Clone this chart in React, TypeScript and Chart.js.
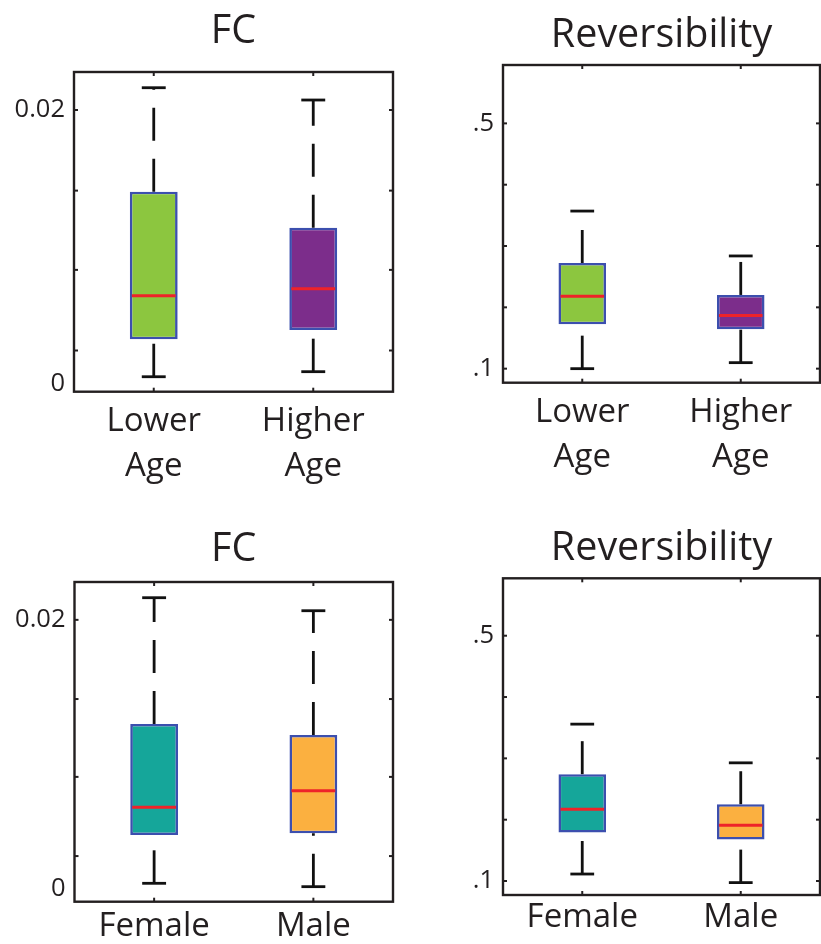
import React, { useEffect, useRef } from 'react';
import { Chart, registerables } from 'chart.js';

Chart.register(...registerables);

// ---- data -------------------------------------------------------------
// Each group: [lower whisker, Q1, median, Q3, upper whisker]
const ageGroups = [['Lower', 'Age'], ['Higher', 'Age']];
const sexGroups = ['Female', 'Male'];

const fcByAge = [
  [0.00048, 0.00322, 0.00641, 0.01402, 0.02163],
  [0.00085, 0.0039, 0.00692, 0.01139, 0.02073],
];
const revByAge = [
  [0.1, 0.1723, 0.218, 0.2724, 0.357],
  [0.1098, 0.1642, 0.1865, 0.2202, 0.2838],
];
const fcBySex = [
  [0.00037, 0.00397, 0.00603, 0.01224, 0.02165],
  [0.00012, 0.0041, 0.00727, 0.01142, 0.02068],
];
const revBySex = [
  [0.1114, 0.179, 0.217, 0.2742, 0.3558],
  [0.0974, 0.1676, 0.191, 0.2252, 0.2927],
];

const ageColors = ['#8cc63f', '#7c2d8b'];
const sexColors = ['#15a69a', '#fbb040'];

// axis ticks
const fcLabelTicks = [0, 0.02];
const fcTickLabels = ['0', '0.02'];
const fcTickMarks = [0.0024, 0.0083, 0.0141, 0.02];
const revLabelTicks = [0.1, 0.5];
const revTickLabels = ['.1', '.5'];
const revTickMarks = [0.1, 0.2, 0.3, 0.4, 0.5];

const fcAgeRange = [-0.000615, 0.02278];
const fcSexRange = [-0.001, 0.02282];
const revAgeRange = [0.0771, 0.5952];
const revSexRange = [0.0772, 0.5936];

// ---- styling ----------------------------------------------------------
const FONT = "'Open Sans', 'Noto Sans', sans-serif";
const INK = '#231f20';
const BOX_EDGE = '#3c4fae';
const MEDIAN = '#ee2329';
const TITLE_SIZE = 39.5;
const TITLE_LH = 1.2;

type Spec = {
  title: string;
  categories: any[];
  stats: number[][];
  colors: string[];
  range: number[];
  labelTicks: number[];
  tickLabels: string[];
  tickMarks: number[];
  canvas: { x: number; y: number; w: number; h: number };
  area: { l: number; t: number; r: number; b: number };
  titleMid: number;
  xPad: number;
};

const panels: Spec[] = [
  {
    title: 'FC', categories: ageGroups, stats: fcByAge, colors: ageColors, range: fcAgeRange,
    labelTicks: fcLabelTicks, tickLabels: fcTickLabels, tickMarks: fcTickMarks,
    canvas: { x: 0, y: 0, w: 410, h: 490 }, area: { l: 74, t: 72, r: 393, b: 391.7 },
    titleMid: 31.5, xPad: 7,
  },
  {
    title: 'Reversibility', categories: ageGroups, stats: revByAge, colors: ageColors, range: revAgeRange,
    labelTicks: revLabelTicks, tickLabels: revTickLabels, tickMarks: revTickMarks,
    canvas: { x: 410, y: 0, w: 411, h: 490 }, area: { l: 503, t: 65, r: 820, b: 382.7 },
    titleMid: 35.6, xPad: 7.5,
  },
  {
    title: 'FC', categories: sexGroups, stats: fcBySex, colors: sexColors, range: fcSexRange,
    labelTicks: fcLabelTicks, tickLabels: fcTickLabels, tickMarks: fcTickMarks,
    canvas: { x: 0, y: 490, w: 410, h: 454 }, area: { l: 74.5, t: 582, r: 393, b: 901.7 },
    titleMid: 59.8, xPad: 2,
  },
  {
    title: 'Reversibility', categories: sexGroups, stats: revBySex, colors: sexColors, range: revSexRange,
    labelTicks: revLabelTicks, tickLabels: revTickLabels, tickMarks: revTickMarks,
    canvas: { x: 410, y: 490, w: 411, h: 454 }, area: { l: 503, t: 578.3, r: 820, b: 895 },
    titleMid: 59, xPad: 0.5,
  },
];

// Whiskers, caps, medians, frame and inward tick marks, all placed through the chart's scales.
function boxDecorations(spec: Spec) {
  return {
    id: 'boxDecorations',
    afterDatasetsDraw(chart: any) {
      const { ctx, chartArea: a, scales } = chart;
      const x = scales.x;
      const y = scales.y;
      const meta = chart.getDatasetMeta(0);
      const seg = (x1: number, y1: number, x2: number, y2: number) => {
        ctx.beginPath();
        ctx.moveTo(x1, y1);
        ctx.lineTo(x2, y2);
        ctx.stroke();
      };
      ctx.save();
      spec.stats.forEach((s, i) => {
        const bar = meta.data[i];
        const cx = bar.x;
        const w = bar.width;
        const [lo, q1, med, q3, hi] = s;
        // dashed whiskers, drawn upward from the lower value
        ctx.strokeStyle = '#111';
        ctx.lineWidth = 2.8;
        ctx.lineCap = 'butt';
        ctx.setLineDash([33, 18]);
        seg(cx, y.getPixelForValue(lo), cx, y.getPixelForValue(q1));
        seg(cx, y.getPixelForValue(q3), cx, y.getPixelForValue(hi));
        ctx.setLineDash([]);
        // caps
        seg(cx - w / 4, y.getPixelForValue(lo), cx + w / 4, y.getPixelForValue(lo));
        seg(cx - w / 4, y.getPixelForValue(hi), cx + w / 4, y.getPixelForValue(hi));
        // median
        ctx.strokeStyle = MEDIAN;
        ctx.lineWidth = 3;
        const my = y.getPixelForValue(med);
        seg(cx - w / 2 + 2, my, cx + w / 2 - 2, my);
      });
      // frame
      ctx.strokeStyle = INK;
      ctx.lineWidth = 2.4;
      ctx.strokeRect(a.left, a.top, a.right - a.left, a.bottom - a.top);
      // inward tick marks
      ctx.lineWidth = 2;
      spec.tickMarks.forEach((v) => {
        const py = y.getPixelForValue(v);
        seg(a.left, py, a.left + 4, py);
        seg(a.right, py, a.right - 4, py);
      });
      spec.categories.forEach((_, i) => {
        const px = x.getPixelForValue(i);
        seg(px, a.bottom, px, a.bottom - 4);
        seg(px, a.top, px, a.top + 4);
      });
      ctx.restore();
    },
  };
}

function makeConfig(spec: Spec): any {
  const { canvas, area } = spec;
  const titleLineH = TITLE_SIZE * TITLE_LH;
  const titleTop = spec.titleMid - titleLineH / 2;
  const titleBottom = area.t - canvas.y - titleTop - titleLineH;
  return {
    type: 'bar',
    data: {
      labels: spec.categories,
      datasets: [
        {
          data: spec.stats.map((s) => [s[1], s[3]]),
          backgroundColor: spec.colors,
          borderColor: BOX_EDGE,
          borderWidth: 2.6,
          borderSkipped: false,
          barPercentage: 0.3,
          categoryPercentage: 1,
        },
      ],
    },
    options: {
      animation: false,
      responsive: false,
      devicePixelRatio: 1,
      events: [],
      layout: {
        autoPadding: false,
        padding: { left: 0, top: 0, bottom: 0, right: canvas.x + canvas.w - area.r },
      },
      plugins: {
        legend: { display: false },
        tooltip: { enabled: false },
        title: {
          display: true,
          text: spec.title,
          fullSize: false,
          color: INK,
          font: { family: FONT, size: TITLE_SIZE, lineHeight: TITLE_LH, weight: 'normal' },
          padding: { top: titleTop, bottom: titleBottom },
        },
      },
      scales: {
        x: {
          type: 'category',
          offset: true,
          grid: { display: false, drawTicks: false },
          border: { display: false },
          ticks: {
            color: INK,
            autoSkip: false,
            maxRotation: 0,
            minRotation: 0,
            padding: spec.xPad,
            font: { family: FONT, size: 33, lineHeight: 45 / 33 },
          },
          afterFit: (s: any) => {
            s.height = canvas.y + canvas.h - area.b;
            s.paddingLeft = 0;
            s.paddingRight = 0;
          },
        },
        y: {
          type: 'linear',
          min: spec.range[0],
          max: spec.range[1],
          grid: { display: false, drawTicks: false },
          border: { display: false },
          afterBuildTicks: (s: any) => {
            s.ticks = spec.labelTicks.map((v) => ({ value: v }));
          },
          ticks: {
            color: INK,
            padding: 9,
            font: { family: FONT, size: 25.5 },
            callback: (_v: any, i: number) => spec.tickLabels[i],
          },
          afterFit: (s: any) => {
            s.width = area.l - canvas.x;
            s.paddingTop = 0;
            s.paddingBottom = 0;
          },
        },
      },
    },
    plugins: [boxDecorations(spec)],
  };
}

function Panel({ spec }: { spec: Spec }) {
  const ref = useRef<HTMLCanvasElement>(null);
  useEffect(() => {
    const chart = new Chart(ref.current as HTMLCanvasElement, makeConfig(spec));
    return () => chart.destroy();
  }, [spec]);
  const { x, y, w, h } = spec.canvas;
  return (
    <canvas
      ref={ref}
      width={w}
      height={h}
      style={{ position: 'absolute', left: x, top: y, width: w, height: h }}
    />
  );
}

export default function App() {
  return (
    <div style={{ position: 'absolute', left: 0, top: 0, width: 821, height: 944, background: '#fff', overflow: 'hidden' }}>
      {panels.map((p, i) => (
        <Panel key={i} spec={p} />
      ))}
    </div>
  );
}
